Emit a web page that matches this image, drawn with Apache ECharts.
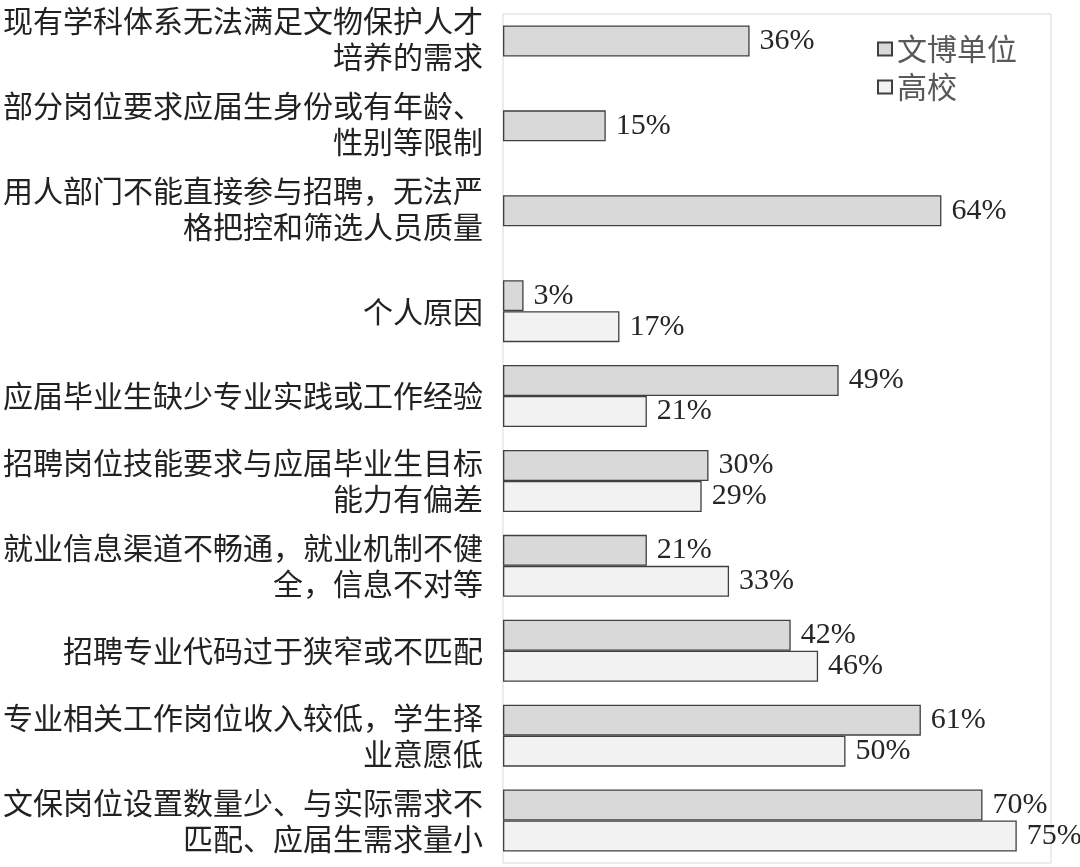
<!DOCTYPE html>
<html>
<head>
<meta charset="utf-8">
<script src="https://cdn.jsdelivr.net/npm/echarts@6/dist/echarts.min.js"></script>
<style>
  html, body { margin: 0; padding: 0; background: #fff; }
  #chart { width: 1080px; height: 867px; }
</style>
</head>
<body>
<div id="chart"></div>
<script>
  // 类别（自上而下）
  var categories = [
    '现有学科体系无法满足文物保护人才培养的需求',
    '部分岗位要求应届生身份或有年龄、性别等限制',
    '用人部门不能直接参与招聘，无法严格把控和筛选人员质量',
    '个人原因',
    '应届毕业生缺少专业实践或工作经验',
    '招聘岗位技能要求与应届毕业生目标能力有偏差',
    '就业信息渠道不畅通，就业机制不健全，信息不对等',
    '招聘专业代码过于狭窄或不匹配',
    '专业相关工作岗位收入较低，学生择业意愿低',
    '文保岗位设置数量少、与实际需求不匹配、应届生需求量小'
  ];
  var wenbo = [36, 15, 64, 3, 49, 30, 21, 42, 61, 70];
  var gaoxiao = [null, null, null, 17, 21, 29, 33, 46, 50, 75];
  var seriesNames = ['文博单位', '高校'];

  var cjk = '"Noto Sans CJK SC", sans-serif';
  var serif = '"Liberation Serif", "Times New Roman", serif';

  // 每行16个字换行；只有一根柱子的类别，标签在原图里偏上半行
  function wrap(s, i) {
    var out = [];
    for (var k = 0; k < s.length; k += 16) {
      out.push(s.slice(k, k + 16));
    }
    if (gaoxiao[i] == null) out.push('');
    return out.join('\n');
  }

  var chart = echarts.init(document.getElementById('chart'));
  var option = {
    animation: false,
    grid: {
      left: 502,
      top: 14,
      width: 549,
      height: 849,
      show: true,
      borderColor: '#d9d9d9',
      borderWidth: 1,
      backgroundColor: 'transparent'
    },
    legend: {
      orient: 'vertical',
      left: 877,
      top: 34,
      padding: 0,
      itemWidth: 14,
      itemHeight: 13,
      itemGap: 8,
      icon: 'rect',
      data: seriesNames,
      textStyle: {
        fontFamily: cjk,
        fontSize: 30,
        lineHeight: 30,
        color: '#595959'
      }
    },
    xAxis: {
      type: 'value',
      min: 0,
      max: 80,
      show: false,
      splitLine: { show: false }
    },
    yAxis: {
      type: 'category',
      inverse: true,
      data: categories,
      axisLine: { show: false },
      axisTick: { show: false },
      axisLabel: {
        interval: 0,
        margin: 20,
        fontFamily: cjk,
        fontSize: 30,
        lineHeight: 36,
        color: '#222',
        align: 'right',
        formatter: wrap
      }
    },
    series: [
      {
        name: seriesNames[0],
        type: 'bar',
        data: wenbo,
        barWidth: 31,
        barGap: '0%',
        itemStyle: { color: '#d9d9d9', borderColor: '#404040', borderWidth: 1.3 },
        label: {
          show: true,
          position: 'right',
          distance: 10,
          formatter: '{c}%',
          fontFamily: serif,
          fontSize: 30,
          color: '#262626'
        }
      },
      {
        name: seriesNames[1],
        type: 'bar',
        data: gaoxiao,
        barWidth: 31,
        barGap: '0%',
        itemStyle: { color: '#f2f2f2', borderColor: '#404040', borderWidth: 1.3 },
        label: {
          show: true,
          position: 'right',
          distance: 10,
          formatter: '{c}%',
          fontFamily: serif,
          fontSize: 30,
          color: '#262626'
        }
      }
    ]
  };
  chart.setOption(option);
  window.onresize = chart.resize;
</script>
</body>
</html>
